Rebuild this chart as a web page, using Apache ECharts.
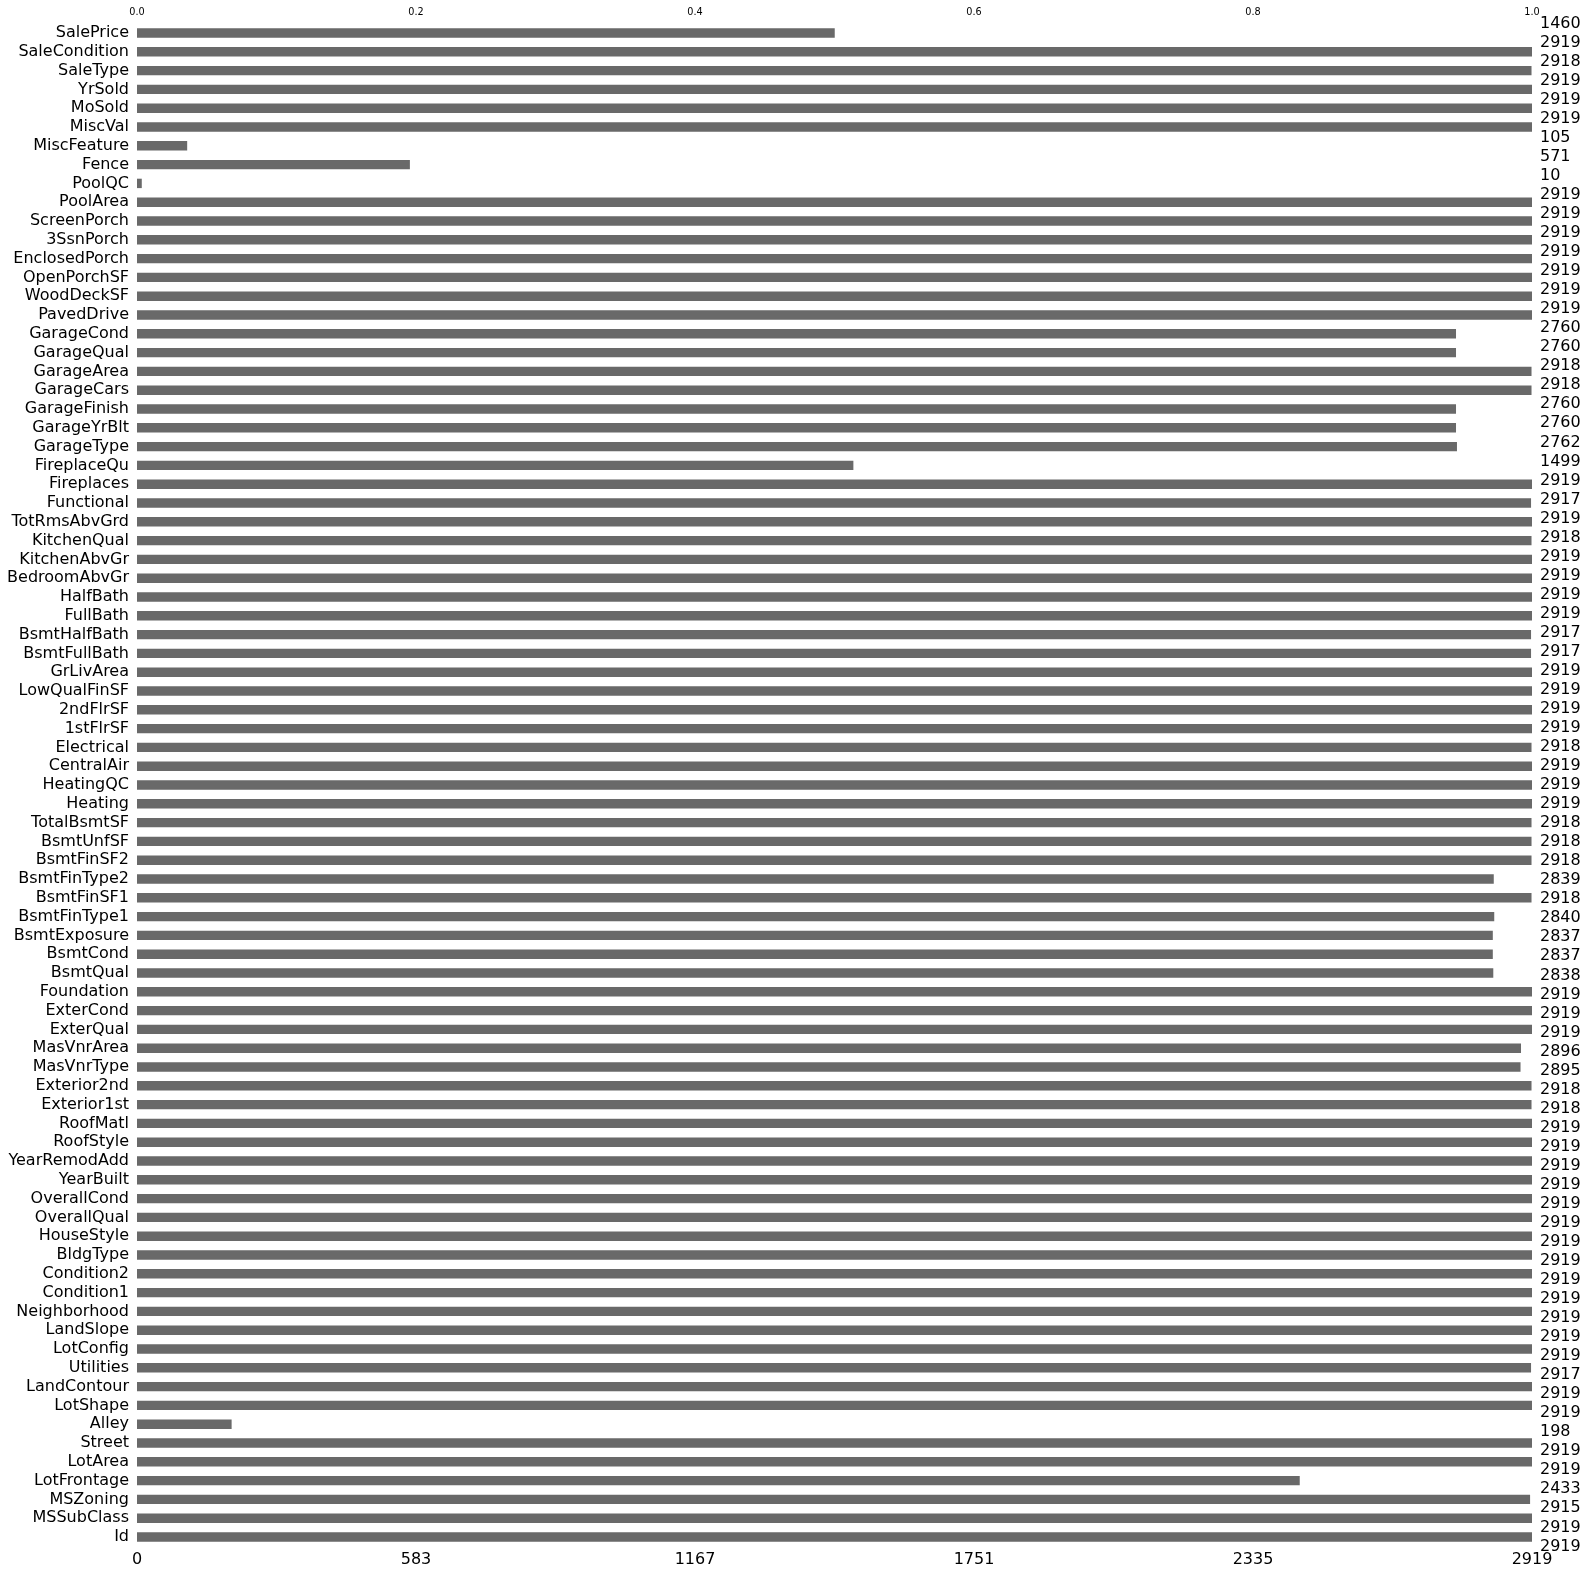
<!DOCTYPE html>
<html><head><meta charset="utf-8">
<script src="https://cdn.jsdelivr.net/npm/echarts@6/dist/echarts.min.js"></script>
<style>html,body{margin:0;padding:0;background:#fff}#c{width:1586px;height:1575px}</style>
</head><body><div id="c"></div><script>
const columns = ['Id','MSSubClass','MSZoning','LotFrontage','LotArea','Street','Alley','LotShape','LandContour','Utilities','LotConfig','LandSlope','Neighborhood','Condition1','Condition2','BldgType','HouseStyle','OverallQual','OverallCond','YearBuilt','YearRemodAdd','RoofStyle','RoofMatl','Exterior1st','Exterior2nd','MasVnrType','MasVnrArea','ExterQual','ExterCond','Foundation','BsmtQual','BsmtCond','BsmtExposure','BsmtFinType1','BsmtFinSF1','BsmtFinType2','BsmtFinSF2','BsmtUnfSF','TotalBsmtSF','Heating','HeatingQC','CentralAir','Electrical','1stFlrSF','2ndFlrSF','LowQualFinSF','GrLivArea','BsmtFullBath','BsmtHalfBath','FullBath','HalfBath','BedroomAbvGr','KitchenAbvGr','KitchenQual','TotRmsAbvGrd','Functional','Fireplaces','FireplaceQu','GarageType','GarageYrBlt','GarageFinish','GarageCars','GarageArea','GarageQual','GarageCond','PavedDrive','WoodDeckSF','OpenPorchSF','EnclosedPorch','3SsnPorch','ScreenPorch','PoolArea','PoolQC','Fence','MiscFeature','MiscVal','MoSold','YrSold','SaleType','SaleCondition','SalePrice'];
const counts = [2919,2919,2915,2433,2919,2919,198,2919,2919,2917,2919,2919,2919,2919,2919,2919,2919,2919,2919,2919,2919,2919,2919,2918,2918,2895,2896,2919,2919,2919,2838,2837,2837,2840,2918,2839,2918,2918,2918,2919,2919,2919,2918,2919,2919,2919,2919,2917,2917,2919,2919,2919,2919,2918,2919,2917,2919,1499,2762,2760,2760,2918,2918,2760,2760,2919,2919,2919,2919,2919,2919,2919,10,571,105,2919,2919,2919,2918,2919,1460];
const bottomTicks = ['0','583','1167','1751','2335','2919'];
const topTicks = ['0.0','0.2','0.4','0.6','0.8','1.0'];
const totalRows = 2919;
const tickStep = totalRows / 5;

const FONT = 'DejaVu Sans';
const chart = echarts.init(document.getElementById('c'), null, {renderer:'canvas'});
const hidden = {axisLine:{show:false}, axisTick:{show:false}, splitLine:{show:false}};
chart.setOption({
  animation:false,
  backgroundColor:'#ffffff',
  grid:{left:137, right:54, top:23.6, bottom:28.6, containLabel:false},
  xAxis:[
    Object.assign({type:'value', position:'bottom', min:0, max:totalRows, interval:tickStep,
      axisLabel:{fontFamily:FONT, fontSize:16, color:'#000', margin:5,
        formatter:(v)=>bottomTicks[Math.round(v/tickStep)]}}, hidden),
    Object.assign({type:'value', position:'top', min:0, max:totalRows, interval:tickStep,
      axisLabel:{fontFamily:FONT, fontSize:9.7, color:'#000', margin:6,
        formatter:(v)=>topTicks[Math.round(v/tickStep)]}}, hidden)
  ],
  yAxis:[
    Object.assign({type:'category', data:columns, position:'left',
      axisLabel:{fontFamily:FONT, fontSize:16, color:'#000', margin:8, interval:0}}, hidden),
    Object.assign({type:'category', data:columns.map((c,i)=>String(i)), position:'right', boundaryGap:false,
      axisLabel:{fontFamily:FONT, fontSize:16, color:'#000', margin:8, interval:0,
        formatter:(v,i)=>String(counts[i])}}, hidden)
  ],
  series:[{type:'bar', xAxisIndex:0, yAxisIndex:0, data:counts, barWidth:'50%',
    itemStyle:{color:'#696969'}, silent:true}]
});
</script></body></html>
